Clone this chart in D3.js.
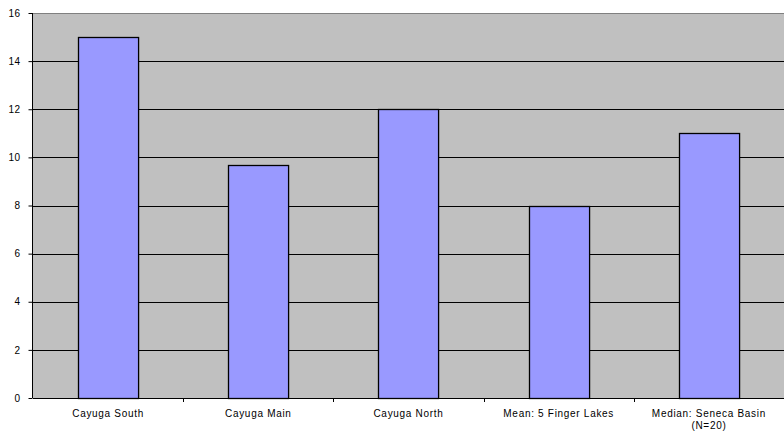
<!DOCTYPE html>
<meta charset="utf-8">
<style>
  body { margin: 0; background: #fff; }
  svg { display: block; font-family: Arial, "Liberation Sans", sans-serif; }
</style>
<body>
<svg id="chart" width="784" height="434"></svg>
<script src="https://d3js.org/d3.v7.min.js"></script>
<script>
  // data
  const categories = ["Cayuga South", "Cayuga Main", "Cayuga North", "Mean: 5 Finger Lakes", "Median: Seneca Basin (N=20)"];
  const values = [15, 9.7, 12, 8, 11];
  const yTicks = [0, 2, 4, 6, 8, 10, 12, 14, 16];

  const margin = {top: 13, right: 0, bottom: 36, left: 33};
  const width = 784, height = 434;
  const svg = d3.select("#chart");

  const x = d3.scaleBand()
    .domain(categories)
    .range([margin.left, width - margin.right])
    .paddingInner(0.6)
    .paddingOuter(0.3);
  const y = d3.scaleLinear()
    .domain([0, 16])
    .range([height - margin.bottom, margin.top]);

  // plot background
  svg.append("rect")
    .attr("x", margin.left).attr("y", margin.top)
    .attr("width", width - margin.right - margin.left)
    .attr("height", y(0) - margin.top)
    .attr("fill", "#c0c0c0");

  // gridlines
  svg.append("g")
    .selectAll("line")
    .data(yTicks.filter(d => d > 0))
    .join("line")
      .attr("x1", margin.left).attr("x2", width - margin.right)
      .attr("y1", d => Math.round(y(d)) + 0.5).attr("y2", d => Math.round(y(d)) + 0.5)
      .attr("stroke", d => d === 16 ? "#808080" : "#000")
      .attr("stroke-width", 1);

  // bars
  svg.append("g")
    .selectAll("rect")
    .data(values)
    .join("rect")
      .attr("x", (d, i) => Math.round(x(categories[i])) + 0.5)
      .attr("y", d => Math.round(y(d)) + 0.5)
      .attr("width", x.bandwidth())
      .attr("height", d => y(0) - Math.round(y(d)))
      .attr("fill", "#9999ff")
      .attr("stroke", "#000")
      .attr("stroke-width", 1.3);

  // y axis
  const yAxis = svg.append("g")
    .attr("transform", `translate(${margin.left - 0.5},0)`)
    .call(d3.axisLeft(y).tickValues(yTicks).tickSize(4).tickPadding(8));
  yAxis.select(".domain").attr("stroke", "#000").attr("d", `M0,${margin.top}V${y(0)}`);
  yAxis.selectAll(".tick line").attr("stroke", "#000");
  yAxis.selectAll("text").attr("font-size", 10).attr("letter-spacing", 0.5).attr("fill", "#000");

  // x axis
  const boundaries = d3.range(0, categories.length + 1).map(i => margin.left + i * (width - margin.right - margin.left) / categories.length);
  const xg = svg.append("g");
  xg.append("line")
    .attr("x1", margin.left).attr("x2", width - margin.right)
    .attr("y1", y(0) + 0.5).attr("y2", y(0) + 0.5)
    .attr("stroke", "#000");
  xg.selectAll(".tk")
    .data(boundaries.slice(1, -1))
    .join("line")
      .attr("class", "tk")
      .attr("x1", d => Math.round(d) + 0.5).attr("x2", d => Math.round(d) + 0.5)
      .attr("y1", y(0)).attr("y2", y(0) + 4)
      .attr("stroke", "#000");

  // category labels (wrap the last one like the reference)
  const labelLines = categories.map(c => c === "Median: Seneca Basin (N=20)" ? ["Median: Seneca Basin", "(N=20)"] : [c]);
  xg.selectAll(".lbl")
    .data(categories)
    .join("text")
      .attr("class", "lbl")
      .attr("text-anchor", "middle")
      .attr("font-size", 10)
      .attr("letter-spacing", 0.7)
      .attr("fill", "#000")
      .attr("transform", d => `translate(${x(d) + x.bandwidth() / 2},${y(0) + 19})`)
      .each(function(d, i) {
        d3.select(this).selectAll("tspan")
          .data(labelLines[i])
          .join("tspan")
            .attr("x", 0)
            .attr("dy", (t, j) => j === 0 ? 0 : 12)
            .text(t => t);
      });
</script>
</body>
